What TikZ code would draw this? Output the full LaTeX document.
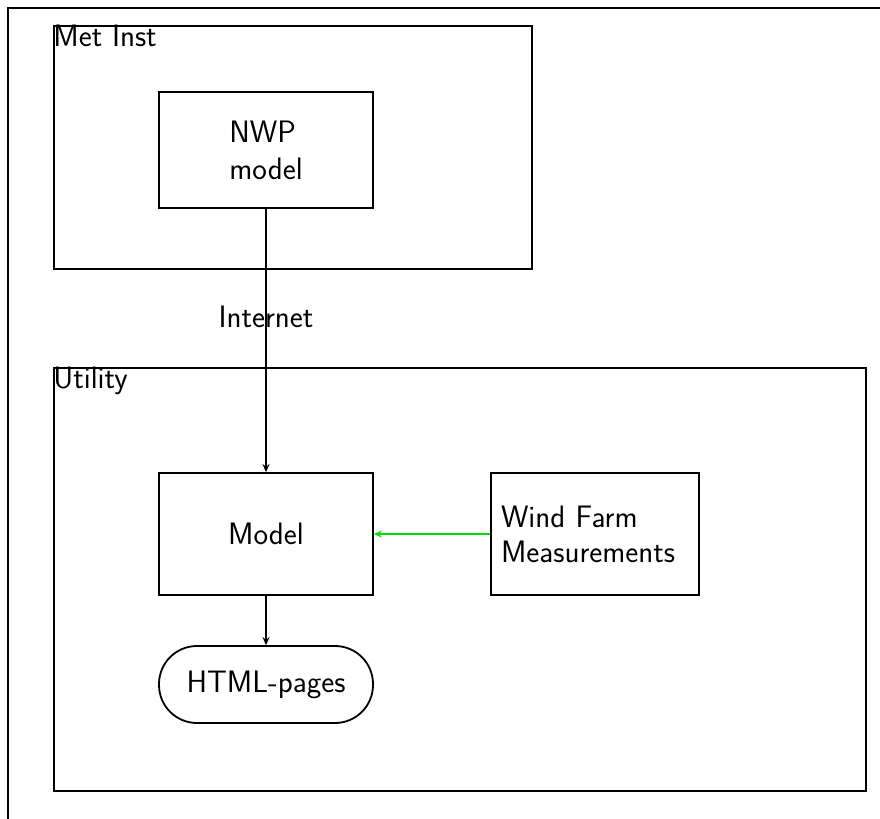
\documentclass[tikz,border=0pt]{standalone}
\usetikzlibrary{arrows.meta,positioning}
\begin{document}
\begin{tikzpicture}[x=0.5pt,y=-0.5pt,every node/.style={font=\sffamily\fontsize{15.5}{18.5}\selectfont},
  group/.style={draw,line width=1pt,anchor=north west,inner sep=0pt},
  block/.style={draw,line width=0.9pt,minimum width=107pt,minimum height=58pt,inner sep=0pt,align=left},
  flow/.style={-{Stealth[length=4pt,width=3.5pt]},line width=0.7pt}]
\useasboundingbox (0,0) rectangle (880,819);
\draw[line width=1.2pt] (8,819)--(8,8)--(880,8);
\node[group,minimum width=239pt,minimum height=121.5pt] (metbox) at (53,25) {};
\node[anchor=north west,inner sep=0pt] (metlbl) at (metbox.north west) {Met Inst};
\node[group,minimum width=406pt,minimum height=211.5pt] (utilbox) at (53,367) {};
\node[anchor=north west,inner sep=0pt] (utillbl) at (utilbox.north west) {Utility};
\node[block] (nwp) at (266,150) {NWP\\model};
\node[block,minimum height=61pt] (model) at (266,534) {Model};
\node[block,minimum width=104pt,minimum height=61pt,text width=94pt,inner xsep=4.5pt,font=\sffamily\fontsize{15.5}{17.5}\selectfont] (wind) at (595,534) {Wind Farm\\Measurements};
\node[draw,line width=0.9pt,rounded corners=19pt,minimum width=107pt,minimum height=38.5pt] (html) at (266,684.5) {HTML-pages};
\draw[flow] (nwp.south) -- node[pos=0.41] (inet) {Internet} (model.north);
\draw[flow,green!80!black!70!green] (wind.west) -- (model.east);
\draw[flow] (model.south) -- (html.north);
\end{tikzpicture}
\end{document}
